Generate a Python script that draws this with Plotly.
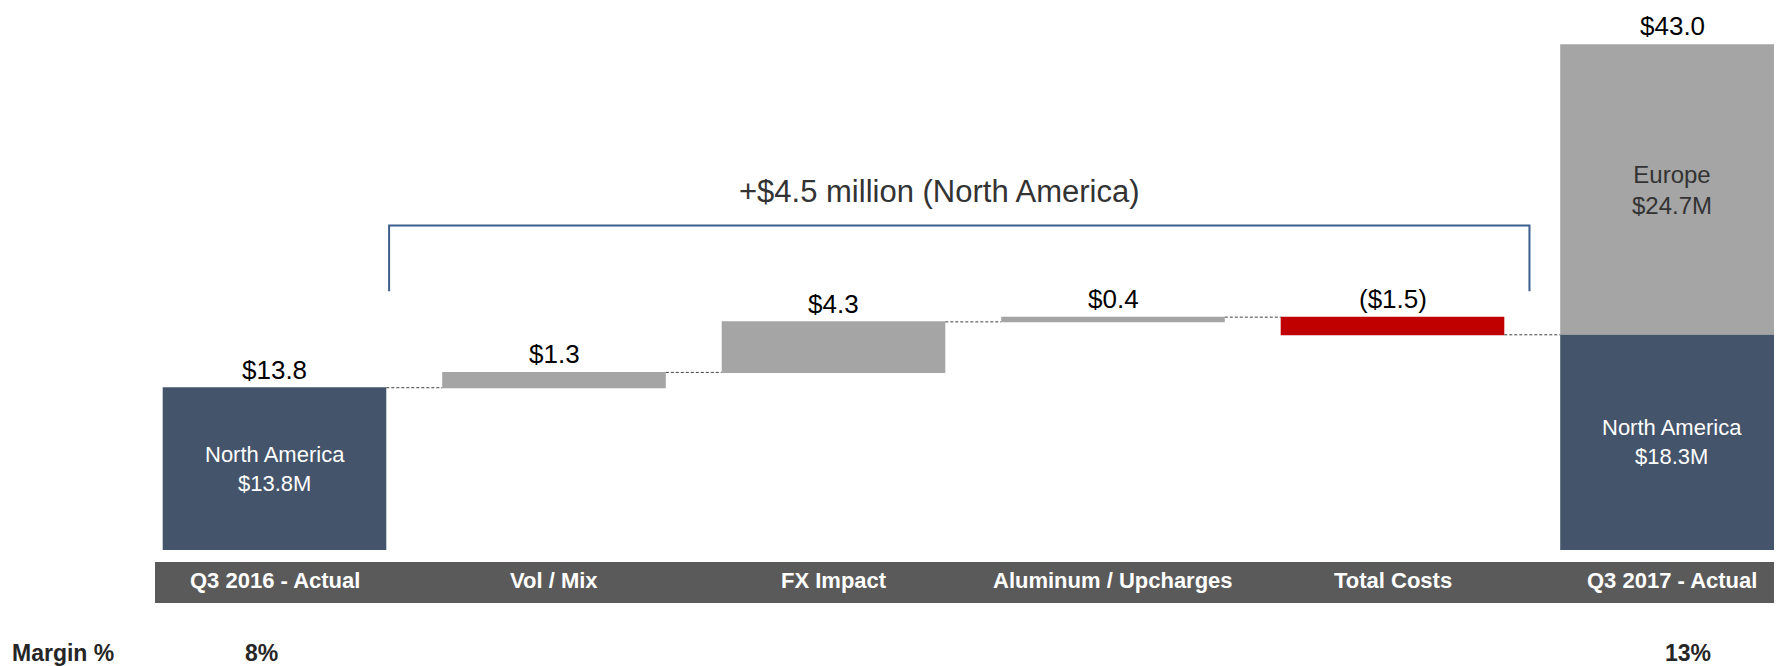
import plotly.graph_objects as go

# ---------------- data ----------------
categories = ["Q3 2016 - Actual", "Vol / Mix", "FX Impact", "Aluminum / Upcharges", "Total Costs", "Q3 2017 - Actual"]
na_values = [13.8, 1.3, 4.3, 0.4, -1.5, 18.3]
measures = ["absolute", "relative", "relative", "relative", "relative", "total"]
europe_value = 24.7
margins = ["8%", "", "", "", "", "13%"]
bracket_text = "+$4.5 million (North America)"

# ---------------- style ----------------
NAVY = "#44546A"
GRAY = "#A5A5A5"
RED = "#C00000"
BAND = "#5A5A5A"
BLUE_LINE = "#3F5E90"
SANS = "Liberation Sans, Arial, sans-serif"
MARGIN_XSHIFT = [-13, 0, 0, 0, 0, 16]

# page has an 8px body margin; figure is sized so it fills the window
W, H = 1774, 658
PLOT_H = 542
PX_PER_UNIT = 11.76
X0_PX, STEP_PX = 266.5, 279.5

# cumulative levels
starts, ends = [], []
level = 0.0
for v, m in zip(na_values, measures):
    if m == "absolute":
        s, e = 0.0, v
    elif m == "total":
        s, e = 0.0, level
    else:
        s, e = level, level + v
    level = e
    starts.append(s)
    ends.append(e)

def fmt(v):
    return f"(${abs(v):.1f})" if v < 0 else f"${v:.1f}"

fig = go.Figure()

fig.add_trace(go.Waterfall(
    x=categories, y=na_values, measure=measures,
    width=0.8,
    totals=dict(marker=dict(color=NAVY)),
    increasing=dict(marker=dict(color=GRAY)),
    decreasing=dict(marker=dict(color=RED)),
    connector=dict(mode="between", line=dict(color="#404040", width=1, dash="3px,2px")),
    textinfo="none", hoverinfo="skip", showlegend=False,
))

fig.add_trace(go.Bar(
    x=[categories[-1]], y=[europe_value], base=[ends[-1]],
    width=0.8, marker=dict(color=GRAY, line=dict(width=0)),
    hoverinfo="skip", showlegend=False,
))

annotations = []
# value labels above bars
for i, c in enumerate(categories):
    if measures[i] == "total":
        top = ends[i] + europe_value
        label = fmt(top)
    else:
        top = max(starts[i], ends[i])
        label = fmt(na_values[i])
    annotations.append(dict(x=c, y=top, xref="x", yref="y", text=label, showarrow=False,
                            yanchor="bottom", yshift=1,
                            font=dict(family=SANS, size=26, color="#000000")))

# inside labels
annotations.append(dict(x=categories[0], y=(starts[0] + ends[0]) / 2, xref="x", yref="y",
                        text=f"North America<br>${ends[0]:.1f}M", showarrow=False,
                        font=dict(family=SANS, size=22, color="#FFFFFF")))
annotations.append(dict(x=categories[-1], y=ends[-1] / 2, xref="x", yref="y",
                        text=f"North America<br>${ends[-1]:.1f}M", showarrow=False,
                        font=dict(family=SANS, size=22, color="#FFFFFF")))
annotations.append(dict(x=categories[-1], y=ends[-1] + europe_value / 2, xref="x", yref="y",
                        text=f"Europe<br>${europe_value:.1f}M", showarrow=False,
                        font=dict(family=SANS, size=24, color="#333333")))

# category labels on band
for c in categories:
    annotations.append(dict(x=c, y=0, xref="x", yref="paper", text=f"<b>{c}</b>", showarrow=False,
                            yanchor="middle", yshift=-30,
                            font=dict(family=SANS, size=22, color="#FFFFFF")))

# margin row
annotations.append(dict(x=0, y=0, xref="paper", yref="paper", text="<b>Margin %</b>", showarrow=False,
                        xanchor="left", yanchor="middle", xshift=2, yshift=-103,
                        font=dict(family=SANS, size=23, color="#262626")))
for i, c in enumerate(categories):
    if margins[i]:
        annotations.append(dict(x=c, y=0, xref="x", yref="paper", text=f"<b>{margins[i]}</b>",
                                showarrow=False, yanchor="middle", yshift=-103,
                                xshift=MARGIN_XSHIFT[i],
                                font=dict(family=SANS, size=23, color="#262626")))

# bracket title
annotations.append(dict(x=931.5 / W, y=(PLOT_H - 184) / PLOT_H, xref="paper", yref="paper",
                        text=bracket_text, showarrow=False, yanchor="middle",
                        font=dict(family=SANS, size=31, color="#333333")))

shapes = [
    # category band
    dict(type="rect", xref="paper", yref="paper", x0=147 / W, x1=1.0,
         y0=-(595 - PLOT_H) / PLOT_H, y1=-(554 - PLOT_H) / PLOT_H,
         fillcolor=BAND, line=dict(width=0), layer="below"),
    # bracket
    dict(type="path", xref="x", yref="y",
         path="M 0.41,22.0 L 0.41,27.6 L 4.49,27.6 L 4.49,22.0",
         line=dict(color=BLUE_LINE, width=2)),
]

r0 = -X0_PX / STEP_PX
r1 = r0 + W / STEP_PX

fig.update_layout(
    width=W, height=H,
    margin=dict(l=0, r=0, t=0, b=H - PLOT_H, pad=0),
    paper_bgcolor="white", plot_bgcolor="white",
    barmode="overlay", waterfallmode="overlay",
    xaxis=dict(type="category", range=[r0, r1], showticklabels=False, showgrid=False,
               zeroline=False, showline=False, ticks="", fixedrange=True),
    yaxis=dict(range=[0, PLOT_H / PX_PER_UNIT], visible=False, showgrid=False, zeroline=False,
               fixedrange=True),
    annotations=annotations, shapes=shapes,
    showlegend=False,
)

fig.write_html("out.html", config={"displayModeBar": False})
